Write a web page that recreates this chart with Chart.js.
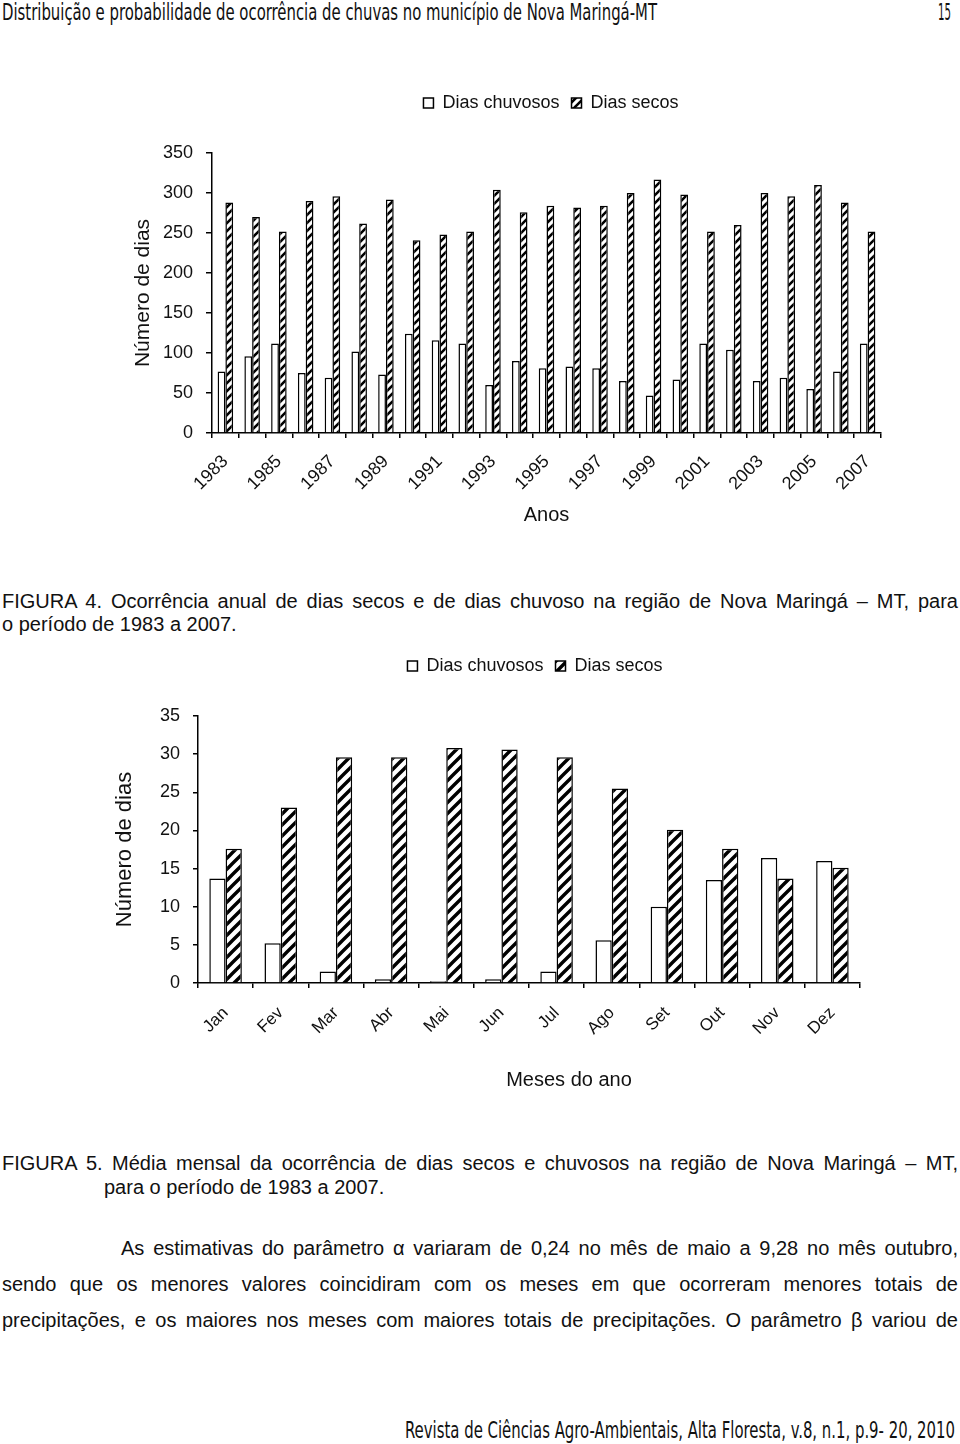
<!DOCTYPE html>
<html><head><meta charset="utf-8">
<script src="https://cdn.jsdelivr.net/npm/chart.js@4.4.1/dist/chart.umd.min.js"></script>
<style>
html,body{margin:0;padding:0;background:#fff;width:960px;height:1444px;overflow:hidden;position:relative;}
.t{position:absolute;white-space:nowrap;font-family:"Liberation Sans",Arial,sans-serif;font-size:20px;line-height:24px;color:#111;transform-origin:0 50%;}
.h{font-family:"DejaVu Sans Condensed","DejaVu Sans",sans-serif;font-stretch:condensed;font-size:23px;}
#c1{position:absolute;left:0;top:82px;}
#c2{position:absolute;left:0;top:645px;}
</style></head>
<body>
<div class="t h" id="hdr" style="left:2px;top:0px;">Distribuição e probabilidade de ocorrência de chuvas no município de Nova Maringá-MT</div>
<div class="t h" id="pg" style="left:938px;top:0px;">15</div>
<canvas id="c1" width="960" height="458"></canvas>
<div class="t" id="f4a" style="left:2px;top:589px;">FIGURA 4. Ocorrência anual de dias secos e de dias chuvoso na região de Nova Maringá – MT, para</div>
<div class="t" id="f4b" style="left:2px;top:612px;">o período de 1983 a 2007.</div>
<canvas id="c2" width="960" height="455"></canvas>
<div class="t" id="f5a" style="left:2px;top:1151px;">FIGURA 5. Média mensal da ocorrência de dias secos e chuvosos na região de Nova Maringá – MT,</div>
<div class="t" id="f5b" style="left:104px;top:1175px;">para o período de 1983 a 2007.</div>
<div class="t" id="p1" style="left:121px;top:1236px;">As estimativas do parâmetro α variaram de 0,24 no mês de maio a 9,28 no mês outubro,</div>
<div class="t" id="p2" style="left:2px;top:1272px;">sendo que os menores valores coincidiram com os meses em que ocorreram menores totais de</div>
<div class="t" id="p3" style="left:2px;top:1308px;">precipitações, e os maiores nos meses com maiores totais de precipitações. O parâmetro β variou de</div>
<div class="t h" id="ftr" style="left:405px;top:1418px;">Revista de Ciências Agro-Ambientais, Alta Floresta, v.8, n.1, p.9- 20, 2010</div>
<script>
// ---- data ----
const anos = ['1983','1984','1985','1986','1987','1988','1989','1990','1991','1992','1993','1994','1995','1996','1997','1998','1999','2000','2001','2002','2003','2004','2005','2006','2007'];
const chuvososAno = [77,96,112,75,69,102,73,124,116,112,60,90,81,83,81,65,47,67,112,104,65,69,55,77,112];
const secosAno = [288,270,252,290,296,262,292,241,248,252,304,276,284,282,284,300,317,298,252,260,300,296,310,288,252];
const meses = ['Jan','Fev','Mar','Abr','Mai','Jun','Jul','Ago','Set','Out','Nov','Dez'];
const chuvososMes = [13.7,5.2,1.5,0.5,0.24,0.5,1.5,5.6,10.0,13.5,16.4,16.0];
const secosMes = [17.6,23.0,29.6,29.6,30.8,30.6,29.6,25.5,20.1,17.6,13.7,15.1];
const serieNomes = ['Dias chuvosos','Dias secos'];
const tituloY = 'Número de dias';

Chart.defaults.font.family = '"Liberation Sans", Arial, sans-serif';
Chart.defaults.color = '#111';

function hatch(ctx, size, lw){
  const c = document.createElement('canvas'); c.width = c.height = size;
  const x = c.getContext('2d');
  x.fillStyle = '#fff'; x.fillRect(0,0,size,size);
  x.strokeStyle = '#000'; x.lineWidth = lw; x.lineCap = 'square';
  x.beginPath();
  x.moveTo(0,size); x.lineTo(size,0);
  x.moveTo(-size,size); x.lineTo(size,-size);
  x.moveTo(0,2*size); x.lineTo(2*size,0);
  x.stroke();
  return ctx.createPattern(c,'repeat');
}

function makeChart(id, labels, d1, d2, o){
  const ctx = document.getElementById(id).getContext('2d');
  const pat = hatch(ctx, o.hs, o.hlw);
  return new Chart(ctx, {
    type:'bar',
    data:{labels, datasets:[
      {label:serieNomes[0], data:d1, backgroundColor:'#fff', borderColor:'#000', borderWidth:o.bw, categoryPercentage:o.cp, barPercentage:1},
      {label:serieNomes[1], data:d2, backgroundColor:pat, borderColor:'#000', borderWidth:o.bw, categoryPercentage:o.cp, barPercentage:1}
    ]},
    options:{
      responsive:false, animation:false,
      layout:{padding:{left:0,right:o.padR,top:0,bottom:0}},
      plugins:{
        legend:{display:true, position:'top', labels:{boxWidth:10, boxHeight:10, padding:12, color:'#111', font:{size:o.lf}}},
        tooltip:{enabled:false}
      },
      scales:{
        x:{
          grid:{display:true, drawOnChartArea:false, drawTicks:true, tickLength:5, color:'#000', lineWidth:1.5, offset:true},
          border:{display:true, color:'#000', width:1.5},
          ticks:{autoSkip:false, maxRotation:45, minRotation:45, padding:o.xpad, color:'#111', font:{size:o.xtf},
                 callback:(v,i)=> (i % o.every === 0 ? labels[i] : '')},
          title:{display:true, text:o.xt, color:'#111', font:{size:o.xttf}, padding:{top:0,bottom:o.xtpad}},
          afterFit:(s)=>{ s.height = o.xh; }
        },
        y:{
          min:0, max:o.max,
          ticks:{stepSize:o.step, padding:13, color:'#111', font:{size:o.ytf}},
          grid:{display:true, drawOnChartArea:false, drawTicks:true, tickLength:o.tl, color:'#000', lineWidth:1.5},
          border:{display:true, color:'#000', width:1.5},
          title:{display:true, text:tituloY, color:'#111', font:{size:o.yttf}, padding:{top:o.ytpad,bottom:0}},
          afterFit:(s)=>{ s.width = o.yw; }
        }
      }
    },
    plugins:[{
      id:'legendBox',
      beforeInit(chart){
        const f = chart.legend.fit;
        chart.legend.fit = function(){ f.call(this); this.height = o.lh; };
      },
      afterLayout(chart){
        chart.legend.left = o.lcx - 400;
        chart.legend.right = o.lcx + 400;
      }
    }]
  });
}

makeChart('c1', anos, chuvososAno, secosAno, {
  hs:8, hlw:2.6, xtf:18, ytf:18, xttf:20, yttf:21, lf:18, bw:1.5, cp:0.58, padR:79, xpad:13, every:2,
  xt:'Anos', xtpad:13, xh:107, max:350, step:50, tl:6, ytpad:130.4, yw:212, lh:71, lcx:551
});
makeChart('c2', meses, chuvososMes, secosMes, {
  hs:11, hlw:3.4, xtf:17, ytf:18, xttf:20, yttf:22, lf:18, bw:1.5, cp:0.59, padR:100, xpad:15, every:1,
  xt:'\u2003\u2003\u2003\u2003Meses do ano', xtpad:8, xh:117, max:35, step:5, tl:5, ytpad:111.3, yw:198, lh:71, lcx:535
});

// ---- text fitting ----
function fitW(id, w){ const el=document.getElementById(id); const r=el.getBoundingClientRect().width; el.style.transform='scaleX('+(w/r)+')'; }
function justify(id, w){ const el=document.getElementById(id); el.style.wordSpacing='0px'; const r=el.getBoundingClientRect().width; const n=(el.textContent.match(/ /g)||[]).length; el.style.wordSpacing=((w-r)/n)+'px'; }
fitW('hdr', 655); fitW('pg', 13); fitW('ftr', 550);
justify('f4a', 956); justify('f5a', 956); justify('p1', 837); justify('p2', 956); justify('p3', 956);
</script>
</body></html>
